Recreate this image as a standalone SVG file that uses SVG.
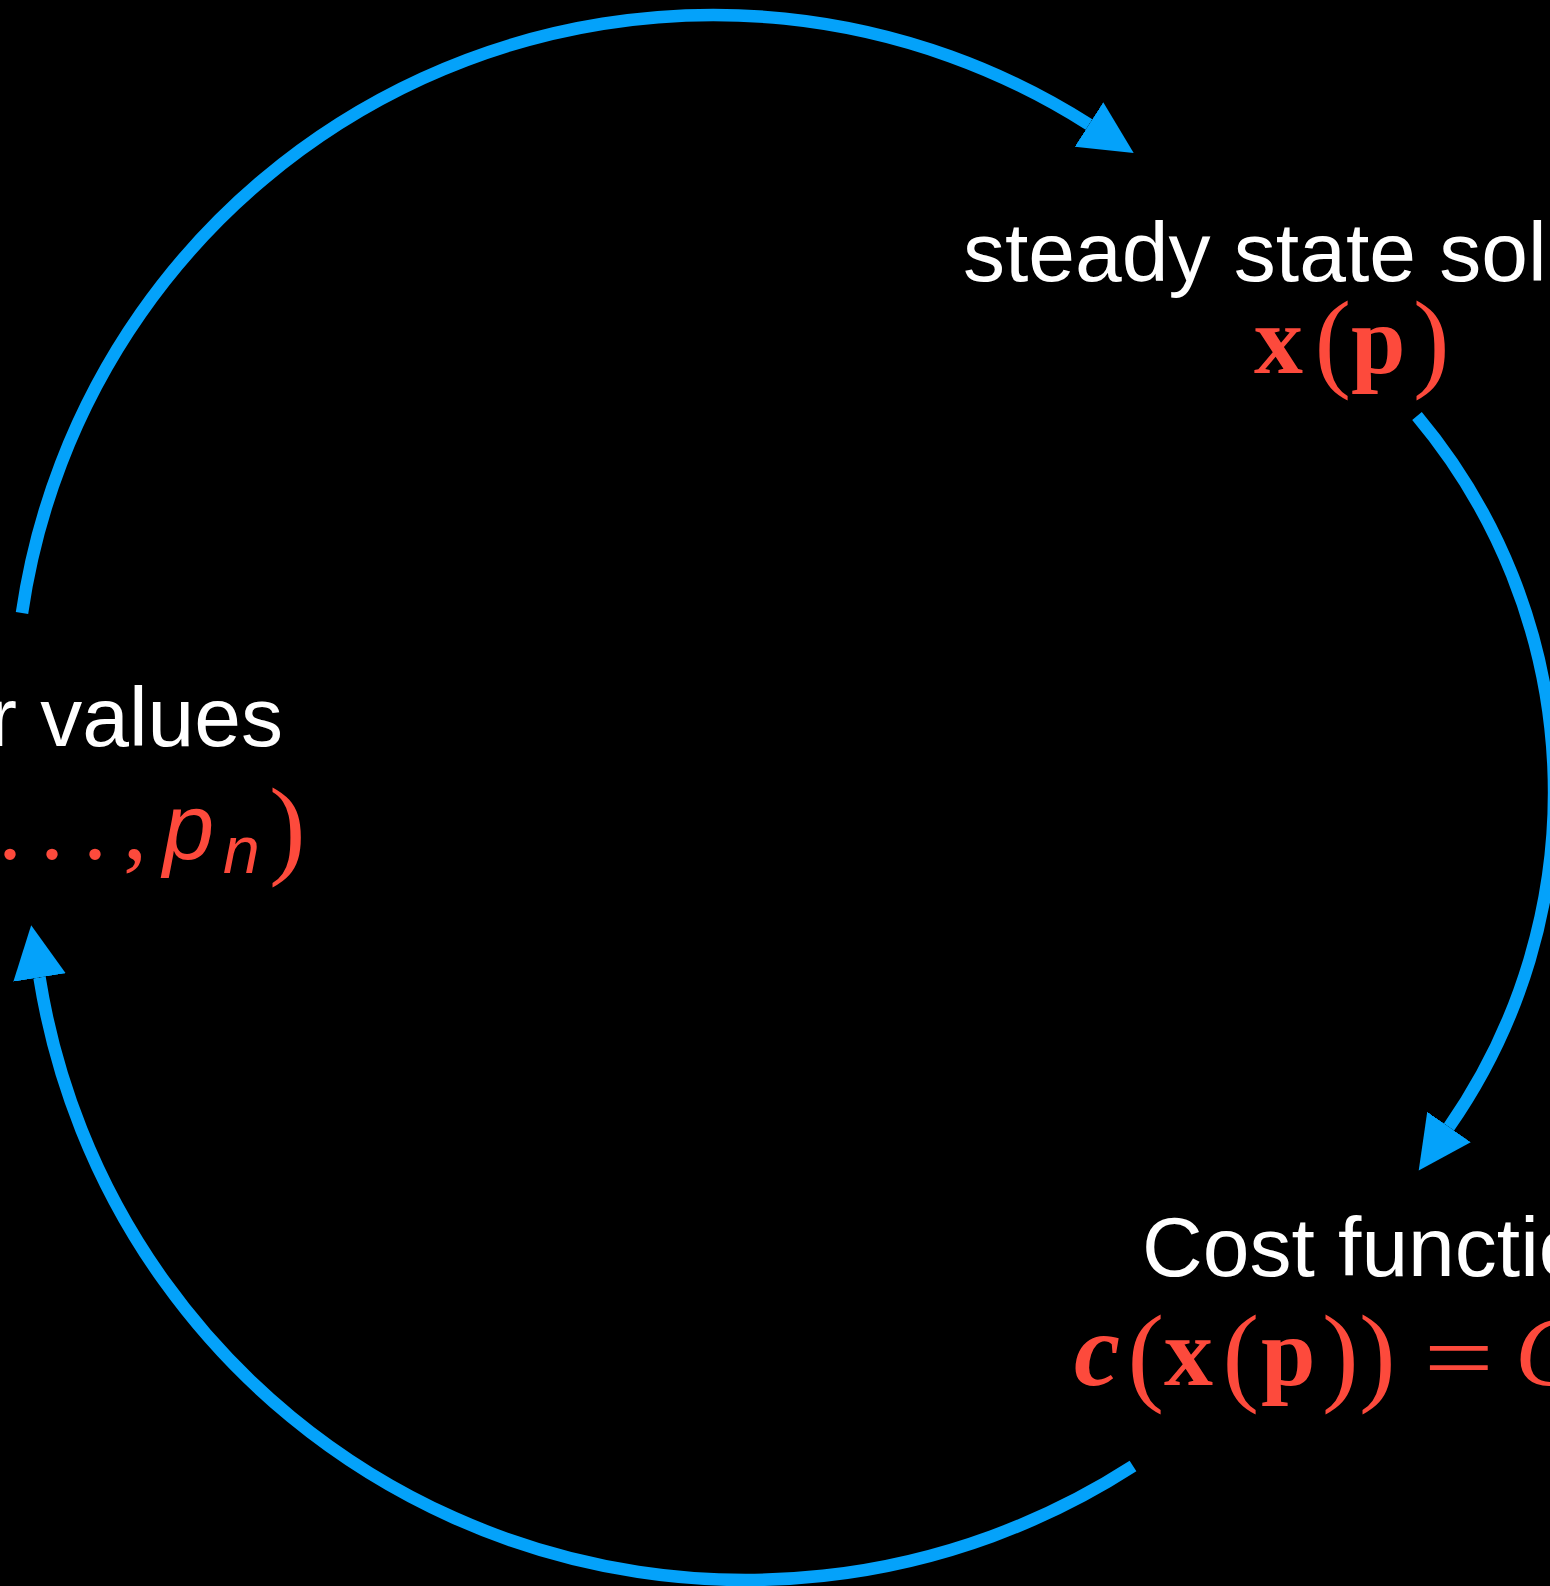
<svg xmlns="http://www.w3.org/2000/svg" width="1550" height="1586" viewBox="0 0 1550 1586">
<style>
.lbl{font-family:"Liberation Sans",Arial,sans-serif;font-size:84px;fill:#ffffff}
.m{fill:#fd4a3c;font-family:"Liberation Serif","Times New Roman",serif}
.mb{font-weight:bold;font-size:98px}
.par{font-size:110px;font-weight:normal}
.si{font-family:"Liberation Sans",Arial,sans-serif;font-style:italic}
.arc{fill:none;stroke:#04a2fa;stroke-width:12.5;marker-end:url(#ah)}
</style>
<defs>
<marker id="ah" markerUnits="userSpaceOnUse" markerWidth="60" markerHeight="60" viewBox="0 0 60 60" refX="0" refY="30" orient="auto">
<path d="M0,3.5 L53,30 L0,56.5 z" fill="#04a2fa"/>
</marker>
</defs>
<rect width="1550" height="1586" fill="#000000"/>
<g id="connectors">
<path class="arc" d="M22,613 A698.7,698.7 0 0 1 1089,124.5"/>
<path class="arc" d="M1417,416 A585.4,585.4 0 0 1 1449,1127"/>
<path class="arc" d="M1133,1466 A715.1,715.1 0 0 1 39.5,977.5"/>
</g>
<g id="node-steady-state">
<text class="lbl" x="963" y="281">steady state sol</text>
<text class="m"><tspan class="mb" x="1254" y="373">x</tspan><tspan class="par" x="1314.5" y="377">(</tspan><tspan class="mb" x="1351" y="373">p</tspan><tspan class="par" x="1413" y="377">)</tspan></text>
</g>
<g id="node-parameters">
<text class="lbl" x="283" y="746" text-anchor="end">r values</text>
<text class="m" font-size="96"><tspan x="-2" y="859">.</tspan><tspan x="40" y="859">.</tspan><tspan x="83" y="859">.</tspan><tspan x="123" y="859">,</tspan><tspan class="si" font-size="92" x="163" y="859">p</tspan><tspan class="si" font-size="66" x="223" y="873">n</tspan><tspan class="par" x="269" y="863.5">)</tspan></text>
</g>
<g id="node-cost">
<text class="lbl" x="1142" y="1276">Cost functio</text>
<text class="m"><tspan font-weight="bold" font-style="italic" font-size="104" x="1074" y="1385">c</tspan><tspan class="par" x="1127.5" y="1390.5">(</tspan><tspan class="mb" x="1164" y="1385">x</tspan><tspan class="par" x="1222.5" y="1390.5">(</tspan><tspan class="mb" x="1261" y="1385">p</tspan><tspan class="par" x="1322" y="1390.5">)</tspan><tspan class="par" x="1359" y="1390.5">)</tspan><tspan font-style="italic" font-size="100" x="1515" y="1385">C</tspan></text>
<text class="m" font-size="97" transform="translate(1427,1390) scale(1.28,1)" x="-2.5" y="0">=</text>
</g>
</svg>
